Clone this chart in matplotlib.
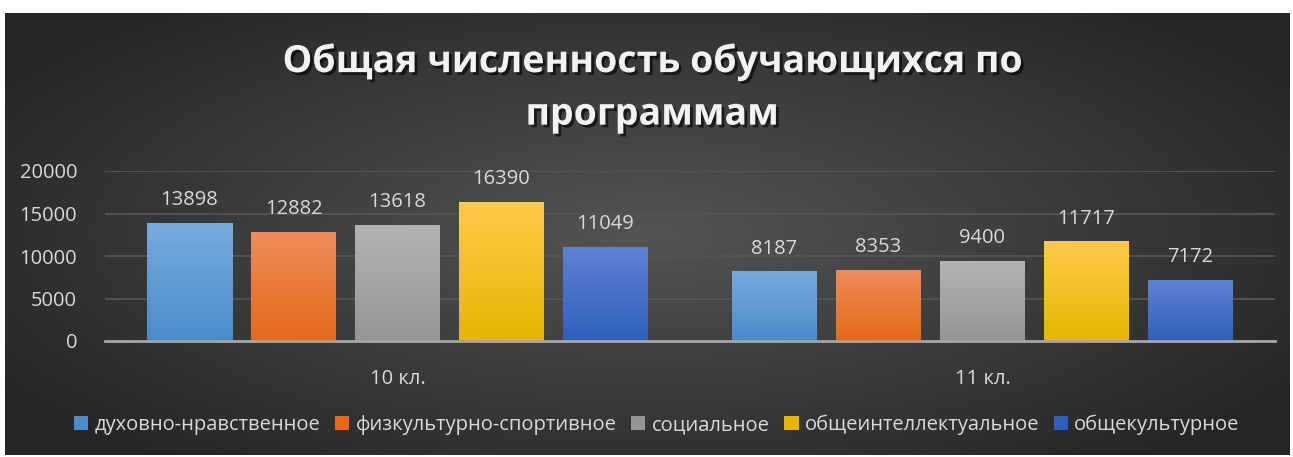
import numpy as np
import matplotlib
matplotlib.use("Agg")
import matplotlib.pyplot as plt
import matplotlib.patheffects as pe
from matplotlib.patches import Patch

plt.rcParams['font.family'] = ['Open Sans', 'DejaVu Sans']

groups = ["10 кл.", "11 кл."]
series = ["духовно-нравственное", "физкультурно-спортивное", "социальное",
          "общеинтеллектуальное", "общекультурное"]
values = [
    [13898, 8187],
    [12882, 8353],
    [13618, 9400],
    [16390, 11717],
    [11049, 7172],
]
# (top colour, bottom colour) for each series
colors = [
    ("#78aade", "#4a8ccb"),
    ("#f08c5c", "#e46a1a"),
    ("#b3b3b3", "#959595"),
    ("#ffcb4a", "#e6b500"),
    ("#5e82d2", "#2f5fbc"),
]
title = "Общая численность обучающихся по\nпрограммам"

W, H = 1293, 457
fig = plt.figure(figsize=(W / 100, H / 100), dpi=100)
fig.patch.set_facecolor("white")

# dark radial background
bg = fig.add_axes([5 / W, 2 / H, 1285 / W, 442 / H])
yy, xx = np.mgrid[-1:1:200j, -1:1:600j]
r = np.sqrt((xx / 1.0) ** 2 + (yy / 1.1) ** 2)
r = np.clip(r, 0, 1.2) / 1.2
lo, hi = np.array([0.15, 0.15, 0.15]), np.array([0.33, 0.33, 0.33])
img = hi[None, None, :] * (1 - r[..., None]) + lo[None, None, :] * r[..., None]
bg.imshow(img, aspect="auto", extent=[0, 1, 0, 1])
bg.set_axis_off()

ax = fig.add_axes([105 / W, (H - 341) / H, 1170 / W, 170 / H])
ax.patch.set_visible(False)

x = np.arange(len(groups))
bw = 85 / 585
pitch = 104 / 585
fs = 14.5

for i, (name, vals) in enumerate(zip(series, values)):
    pos = x + (i - 2) * pitch
    bars = ax.bar(pos, vals, width=bw, color=colors[i][1], label=name, zorder=3)
    grad = np.linspace(0, 1, 100)[:, None]
    c0 = np.array(matplotlib.colors.to_rgb(colors[i][0]))
    c1 = np.array(matplotlib.colors.to_rgb(colors[i][1]))
    gimg = (c0[None, None, :] * (1 - grad[..., None]) + c1[None, None, :] * grad[..., None])
    for b, v in zip(bars, vals):
        im = ax.imshow(gimg, aspect="auto", zorder=4,
                       extent=[b.get_x(), b.get_x() + bw, 0, v])
        im.set_clip_path(b)
        ax.text(b.get_x() + bw / 2, v + 1500, str(v), ha="center", va="bottom",
                color="#d9d9d9", fontsize=fs, zorder=5)

ax.set_xlim(-0.5, len(groups) - 0.5)
ax.set_ylim(0, 20000)
ax.set_yticks([0, 5000, 10000, 15000, 20000])
ax.set_xticks(x)
ax.set_xticklabels(groups)
ax.tick_params(axis="both", length=0, colors="#d9d9d9", labelsize=fs)
ax.tick_params(axis="x", pad=20)
ax.tick_params(axis="y", pad=20)
ax.grid(axis="y", color="#555555", linewidth=1.3, zorder=0)
for s in ["top", "right", "left"]:
    ax.spines[s].set_visible(False)
ax.spines["bottom"].set_color("#a6a6a6")
ax.spines["bottom"].set_linewidth(2)
ax.spines["bottom"].set_zorder(6)

fig.text(652 / W, 1 - 88 / H, title, ha="center", va="center", color="#f2f2f2",
         fontsize=27, fontweight="bold", linespacing=1.5,
         path_effects=[pe.withSimplePatchShadow(offset=(2, -2), shadow_rgbFace="black", alpha=0.6)])

handles = [Patch(facecolor=colors[i][1], label=series[i]) for i in range(len(series))]
leg = fig.legend(handles=handles, loc="center", bbox_to_anchor=(657 / W, 1 - 425 / H), ncol=5,
                 frameon=False, fontsize=fs, handlelength=0.7, handleheight=0.7,
                 handletextpad=0.3, columnspacing=0.75, labelcolor="#d9d9d9")

fig.savefig("out.png", dpi=100, facecolor=fig.get_facecolor())
